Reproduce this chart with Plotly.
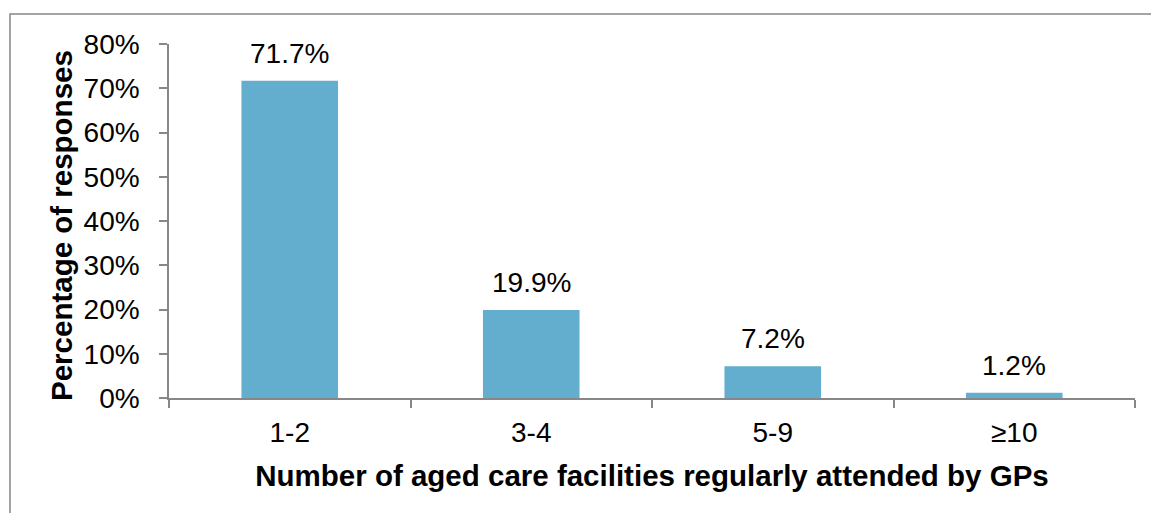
import plotly.graph_objects as go

# Survey results: how many aged care facilities each GP regularly attends
categories = ["1-2", "3-4", "5-9", "≥10"]
percentages = [71.7, 19.9, 7.2, 1.2]
y_ticks = [0, 10, 20, 30, 40, 50, 60, 70, 80]
y_tick_labels = [f"{v}%" for v in y_ticks]

FONT = "Liberation Sans, Arial, sans-serif"
AXIS_GREY = "#878787"
BAR_BLUE = "#63AECE"
SIZE = 28
TITLE_SIZE = 29.5

W, H = 1151, 513
L, R, T, B = 169, 16, 44, 115
pw, ph = W - L - R, H - T - B

fig = go.Figure()
fig.add_trace(go.Bar(
    x=categories,
    y=percentages,
    width=0.4,
    marker=dict(color=BAR_BLUE, line=dict(width=0)),
    hoverinfo="skip",
))

# value labels above each bar
for cat, val in zip(categories, percentages):
    fig.add_annotation(
        x=cat, y=val, text=f"{val:.1f}%", showarrow=False,
        xref="x", yref="y", yanchor="bottom", yshift=10,
        font=dict(family=FONT, size=SIZE, color="#000000"),
    )

# rotated y-axis title, placed just left of the tick labels
fig.add_annotation(
    text="<b>Percentage of responses</b>", showarrow=False, textangle=-90,
    xref="paper", yref="paper",
    x=(61 - L) / pw, y=((H - B) - 226) / ph,
    xanchor="center", yanchor="middle",
    font=dict(family=FONT, size=TITLE_SIZE, color="#000000"),
)

# outer chart frame (runs off the right and bottom edges)
fig.add_shape(
    type="rect", xref="paper", yref="paper",
    x0=(10 - L) / pw, x1=(W + 10 - L) / pw,
    y0=((H - B) - (H + 10)) / ph, y1=((H - B) - 14) / ph,
    line=dict(color=AXIS_GREY, width=1.5),
    fillcolor="rgba(0,0,0,0)", layer="above",
)

fig.update_layout(
    width=W, height=H, autosize=False,
    margin=dict(l=L, r=R, t=T, b=B, pad=0),
    paper_bgcolor="#FFFFFF", plot_bgcolor="#FFFFFF",
    showlegend=False,
    font=dict(family=FONT, size=SIZE, color="#000000"),
)

fig.update_xaxes(
    type="category", range=[-0.5, 3.5],
    showline=True, linecolor=AXIS_GREY, linewidth=1.5,
    ticks="outside", tickson="boundaries", ticklen=8, tickwidth=1.5, tickcolor=AXIS_GREY,
    showgrid=False, zeroline=False,
    tickfont=dict(family=FONT, size=SIZE, color="#000000"),
    ticklabelstandoff=9,
    title=dict(
        text="<b>Number of aged care facilities regularly attended by GPs</b>",
        font=dict(family=FONT, size=TITLE_SIZE, color="#000000"),
        standoff=18,
    ),
)

fig.update_yaxes(
    range=[0, 80],
    tickvals=y_ticks, ticktext=y_tick_labels,
    showline=True, linecolor=AXIS_GREY, linewidth=1.5,
    ticks="outside", ticklen=8, tickwidth=1.5, tickcolor=AXIS_GREY,
    showgrid=False, zeroline=False,
    tickfont=dict(family=FONT, size=SIZE, color="#000000"),
    ticklabelstandoff=14,
)

fig.write_html("out.html")
